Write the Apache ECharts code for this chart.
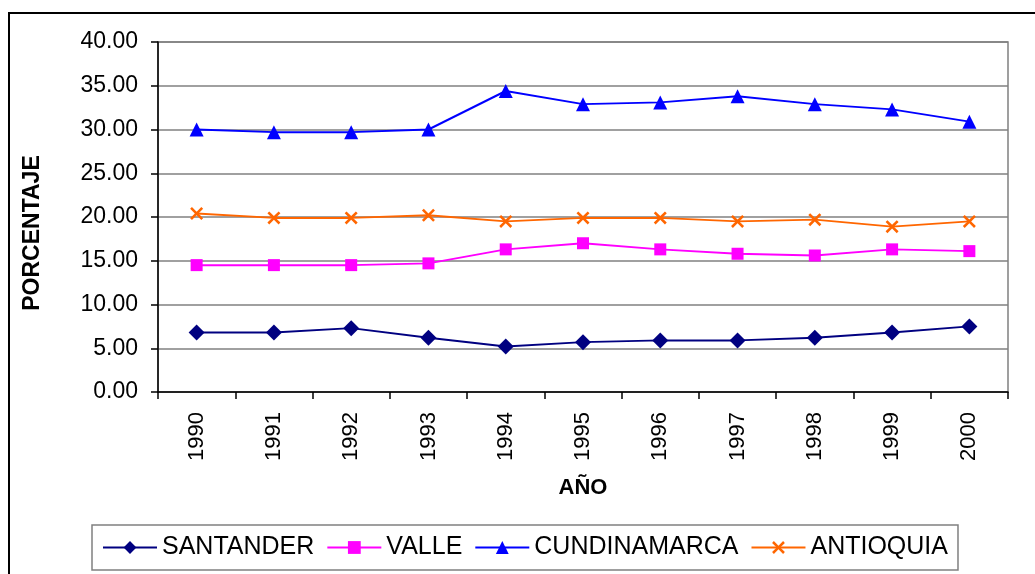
<!DOCTYPE html>
<html>
<head>
<meta charset="utf-8">
<script src="https://cdn.jsdelivr.net/npm/echarts@6/dist/echarts.min.js"></script>
<style>
  html, body { margin: 0; padding: 0; background: #fff; }
  #chart { width: 1035px; height: 574px; }
</style>
</head>
<body>
<div id="chart"></div>
<script>
// data
const years = ['1990', '1991', '1992', '1993', '1994', '1995', '1996', '1997', '1998', '1999', '2000']
const santander = [6.8, 6.8, 7.3, 6.2, 5.2, 5.7, 5.9, 5.9, 6.2, 6.8, 7.5]
const valle = [14.5, 14.5, 14.5, 14.7, 16.3, 17.0, 16.3, 15.8, 15.6, 16.3, 16.1]
const cundinamarca = [30.0, 29.7, 29.7, 30.0, 34.4, 32.9, 33.1, 33.8, 32.9, 32.3, 30.9]
const antioquia = [20.4, 19.9, 19.9, 20.2, 19.5, 19.9, 19.9, 19.5, 19.7, 18.9, 19.5]

const font = 'Liberation Sans, Arial, sans-serif'
// filled "x" shape, Excel style cross marker
const crossPath = 'path://M0,1.4L1.4,0L5,3.6L8.6,0L10,1.4L6.4,5L10,8.6L8.6,10L5,6.4L1.4,10L0,8.6L3.6,5Z'

function lineSeries (name, data, color, symbol, size) {
  return {
    name: name,
    type: 'line',
    data: data,
    symbol: symbol,
    symbolSize: size,
    showAllSymbol: true,
    lineStyle: { color: color, width: 2 },
    itemStyle: { color: color },
    emphasis: { disabled: true }
  }
}

const chart = echarts.init(document.getElementById('chart'))
chart.setOption({
  animation: false,
  backgroundColor: '#fff',
  textStyle: { fontFamily: font },
  graphic: [
    {
      type: 'rect',
      shape: { x: 9, y: 13, width: 1100, height: 700 },
      style: { fill: 'none', stroke: '#000', lineWidth: 2 },
      z: -1
    },
    {
      // y axis title, sits a bit below the middle as in the original
      type: 'text',
      x: 33,
      y: 233,
      rotation: Math.PI / 2,
      style: {
        text: 'PORCENTAJE',
        font: 'bold 23px ' + font,
        fill: '#000',
        align: 'center',
        verticalAlign: 'middle'
      }
    }
  ],
  grid: {
    left: 158,
    right: 27,
    top: 42,
    bottom: 182,
    show: true,
    borderColor: '#808080',
    borderWidth: 1.5
  },
  legend: {
    left: 92,
    top: 525,
    padding: [10, 10, 10, 10],
    borderColor: '#808080',
    borderWidth: 1.5,
    itemWidth: 54,
    itemHeight: 16,
    itemGap: 12,
    textStyle: { fontSize: 25, color: '#000', fontFamily: font },
    data: ['SANTANDER', 'VALLE', 'CUNDINAMARCA', 'ANTIOQUIA']
  },
  xAxis: {
    type: 'category',
    data: years,
    boundaryGap: true,
    name: 'AÑO',
    nameLocation: 'middle',
    nameGap: 85,
    nameTextStyle: { fontSize: 22, fontWeight: 'bold', color: '#000', fontFamily: font },
    axisLine: { lineStyle: { color: '#000', width: 1.5 } },
    axisTick: { show: true, length: 7, lineStyle: { color: '#000', width: 1.5 } },
    axisLabel: { rotate: 90, fontSize: 22, color: '#000', margin: 20, fontFamily: font },
    splitLine: { show: false }
  },
  yAxis: {
    type: 'value',
    min: 0,
    max: 40,
    interval: 5,
    axisLine: { show: true, lineStyle: { color: '#000', width: 1.5 } },
    axisTick: { show: true, length: 7, lineStyle: { color: '#000', width: 1.5 } },
    axisLabel: {
      fontSize: 23,
      color: '#000',
      margin: 20,
      fontFamily: font,
      formatter: v => v.toFixed(2)
    },
    splitLine: { lineStyle: { color: '#808080', width: 1.5 } }
  },
  series: [
    lineSeries('SANTANDER', santander, '#000080', 'diamond', 16),
    lineSeries('VALLE', valle, '#FF00FF', 'rect', 12),
    lineSeries('CUNDINAMARCA', cundinamarca, '#0000FF', 'triangle', 14),
    lineSeries('ANTIOQUIA', antioquia, '#FF6600', crossPath, 13)
  ]
})
</script>
</body>
</html>
